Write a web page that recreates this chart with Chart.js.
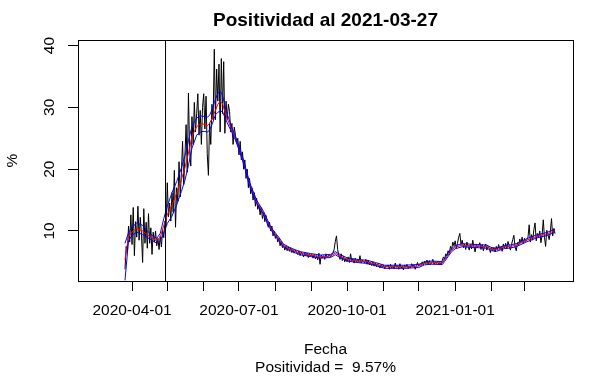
<!DOCTYPE html>
<html><head><meta charset="utf-8">
<script src="https://cdn.jsdelivr.net/npm/chart.js@4.4.0/dist/chart.umd.min.js"></script>
<style>html,body{margin:0;padding:0;background:#fff;}canvas{display:block;}</style>
</head><body>
<canvas id="c" width="614" height="379"></canvas>
<script>
// ---- text ----
const chartTitle = "Positividad al 2021-03-27";
const subtitleText = "Positividad =  9.57%";
const xAxisTitle = "Fecha";
const yAxisTitle = "%";

// ---- data (day index = days since 2020-04-01) ----
const referenceDate = "2020-04-01";
const firstDate = "2020-03-26";
const dailyPositivity = [
 3.8, 7.5, 6.5, 10.8, 8.2, 12.6, 7.8,
 13.8, 6.0, 11.5, 9.0, 14.0, 8.5, 12.2,
 9.5, 4.9, 13.6, 8.0, 11.4, 7.2, 12.8,
 8.0, 10.5, 6.2, 9.8, 8.2, 10.0, 7.6,
 8.8, 7.0, 9.2, 7.4, 10.2, 8.9, 11.6,
 10.8, 17.8, 12.3, 14.5, 11.6, 16.2, 13.0,
 19.8, 10.6, 17.0, 14.8, 21.2, 15.5, 19.5,
 24.5, 17.5, 22.0, 27.2, 19.5, 32.3, 23.0,
 20.5, 28.5, 24.0, 30.8, 26.0, 29.0, 32.2,
 25.5, 29.5, 24.0, 30.0, 32.2, 26.5, 31.8,
 22.5, 19.0, 27.5, 24.0, 30.5, 28.0, 39.4,
 28.0, 36.2, 31.0, 37.0, 26.0, 37.9, 29.0,
 37.4, 25.8, 31.0, 28.0, 30.5, 29.3, 26.0,
 27.4, 24.0, 26.8, 25.5, 24.2, 25.0, 22.3,
 24.5, 21.5, 22.8, 20.0, 21.5, 18.5, 20.0,
 17.0, 18.5, 16.0, 17.0, 15.0, 16.2, 14.0,
 15.3, 13.5, 14.2, 12.6, 13.8, 12.0, 13.0,
 11.5, 12.5, 11.2, 10.6, 11.4, 10.0, 10.8,
 9.2, 10.0, 8.8, 9.3, 8.2, 8.9, 7.6,
 8.3, 7.3, 7.8, 6.9, 7.6, 6.8, 7.4,
 6.7, 7.3, 6.5, 7.0, 6.4, 6.9, 6.6,
 6.2, 6.8, 6.0, 6.6, 6.3, 5.8, 6.5,
 6.0, 6.4, 5.7, 6.3, 5.9, 6.2, 5.6,
 6.2, 5.5, 6.0, 5.3, 6.4, 4.6, 6.1,
 5.6, 6.0, 5.4, 6.3, 5.7, 5.9, 6.2,
 5.8, 6.2, 6.5, 7.0, 8.3, 9.2, 7.0,
 6.0, 5.4, 6.3, 5.2, 5.9, 5.0, 5.6,
 5.0, 5.8, 4.9, 6.3, 5.1, 5.5, 4.8,
 5.6, 4.9, 5.4, 5.0, 6.0, 4.8, 5.3,
 5.1, 4.8, 5.4, 4.6, 5.3, 4.5, 4.9,
 4.4, 5.0, 4.3, 4.8, 4.2, 4.7, 4.4,
 4.0, 4.6, 4.1, 4.5, 3.9, 4.4, 4.2,
 4.5, 3.8, 4.6, 4.0, 4.3, 3.9, 4.8,
 4.1, 4.4, 3.8, 4.7, 4.0, 4.3, 3.7,
 4.5, 4.1, 4.6, 3.9, 4.3, 4.0, 4.7,
 4.2, 4.5, 3.8, 4.4, 4.9, 4.3, 4.6,
 4.4, 5.0, 4.5, 5.1, 4.7, 5.3, 4.6,
 5.2, 4.5, 4.9, 5.4, 4.6, 5.0, 4.7,
 5.1, 4.6, 4.9, 4.5, 5.2, 5.8, 5.4,
 6.3, 6.0, 6.8, 6.4, 7.5, 7.0, 8.2,
 7.6, 8.4, 7.2, 8.0, 9.0, 9.6, 7.8,
 8.5, 7.3, 7.9, 7.0, 8.2, 7.5, 6.9,
 7.8, 7.1, 8.5, 7.4, 6.6, 7.9, 7.3,
 7.6, 8.1, 7.0, 7.8, 6.8, 7.5, 7.9,
 6.9, 7.5, 7.2, 6.5, 7.4, 6.8, 7.3,
 6.6, 7.5, 6.9, 7.8, 7.0, 7.4, 6.7,
 7.9, 7.2, 8.0, 7.1, 8.3, 7.6, 6.9,
 7.8, 8.6, 9.3, 7.4, 6.8, 8.1, 7.6,
 8.7, 8.1, 9.0, 7.9, 8.8, 8.3, 8.6,
 9.0, 11.0, 8.2, 9.4, 8.5, 10.2, 11.3,
 8.4, 9.6, 8.9, 10.0, 8.1, 9.3, 11.8,
 9.0, 7.5, 10.1, 9.4, 8.6, 9.8, 12.0,
 9.2, 10.4, 9.57
];

const smoothDay = [-6, -3, 0, 4, 9, 15, 21, 24, 27, 30,
 34, 38, 42, 45, 48, 51, 55, 59, 62, 64,
 66, 68, 71, 73, 75, 77, 79, 81, 85, 88,
 91, 95, 100, 106, 112, 117, 120, 125, 129, 135,
 143, 152, 160, 169, 173, 177, 183, 191, 200, 207,
 215, 232, 244, 249, 255, 264, 266, 269, 272, 275,
 281, 291, 302, 306, 310, 317, 322, 327, 336, 344,
 353, 360];
const smoothMean = [5.3, 9.1, 9.9, 10.4, 10.0, 9.1, 8.4, 9.0, 10.9, 12.6,
 14.2, 16.1, 18.3, 20.2, 22.6, 25.3, 26.9, 27.4, 27.2, 27.0,
 27.4, 28.2, 29.5, 30.5, 31.0, 30.6, 29.3, 28.2, 26.3, 25.0,
 23.4, 21.1, 17.6, 14.7, 12.9, 10.8, 9.9, 8.7, 7.6, 7.0,
 6.4, 6.1, 5.85, 5.95, 6.4, 5.95, 5.4, 5.15, 5.0, 4.65,
 4.2, 4.2, 4.33, 4.77, 4.87, 4.8, 5.3, 6.1, 6.9, 7.36,
 7.7, 7.57, 7.46, 7.05, 6.95, 7.4, 7.5, 7.7, 8.5, 9.1,
 9.5, 10.05];
const smoothUpper = [8.0, 9.7, 10.6, 11.3, 10.9, 9.6, 8.8, 9.6, 12.0, 14.0,
 16.2, 18.0, 20.2, 22.2, 24.6, 26.9, 28.3, 28.6, 28.5, 28.4,
 28.7, 29.6, 31.3, 32.3, 32.6, 32.0, 30.3, 28.9, 26.7, 25.3,
 23.7, 21.4, 17.9, 15.0, 13.15, 11.05, 10.15, 8.95, 7.85, 7.25,
 6.65, 6.35, 6.1, 6.2, 6.65, 6.2, 5.65, 5.4, 5.25, 4.9,
 4.45, 4.45, 4.58, 5.02, 5.12, 5.05, 5.55, 6.35, 7.15, 7.61,
 7.95, 7.82, 7.71, 7.3, 7.2, 7.65, 7.75, 7.95, 8.75, 9.35,
 9.75, 10.3];
const smoothLower = [2.0, 8.4, 9.3, 9.8, 9.4, 8.7, 8.0, 8.4, 9.6, 11.2,
 12.4, 14.2, 16.4, 18.2, 20.6, 23.4, 25.5, 26.1, 26.1, 26.0,
 26.3, 27.2, 28.8, 29.2, 29.4, 29.3, 28.4, 27.5, 25.9, 24.7,
 23.15, 20.85, 17.35, 14.45, 12.65, 10.55, 9.65, 8.45, 7.35, 6.75,
 6.15, 5.85, 5.6, 5.7, 6.15, 5.7, 5.15, 4.9, 4.75, 4.4,
 3.95, 3.95, 4.08, 4.52, 4.62, 4.55, 5.05, 5.85, 6.65, 7.11,
 7.45, 7.32, 7.21, 6.8, 6.7, 7.15, 7.25, 7.45, 8.25, 8.85,
 9.25, 9.8];

const markerDay = 28.5;
const monthTickDay = [0, 30, 61, 91, 122, 153, 183, 214, 244, 275, 306, 334];
const monthTickLabel = ["2020-04-01", "", "", "2020-07-01", "", "", "2020-10-01", "", "", "2021-01-01", "", ""];
const yTickValues = [10, 20, 30, 40];
const xLimits = [-46, 375.3];
const yLimits = [1.9, 40.9];

// ---- build ----
const dayMs = 86400000;
const firstDay = Math.round((Date.parse(firstDate) - Date.parse(referenceDate)) / dayMs);
const dailyPoints = dailyPositivity.map((v, i) => ({x: firstDay + i, y: v}));
const pts = (days, vals) => days.map((d, i) => ({x: d, y: vals[i]}));

const FONT = "'Liberation Sans', Arial, Helvetica, sans-serif";
Chart.defaults.font.family = FONT;
Chart.defaults.color = '#000';

const boxPlugin = {
  id: 'plotBox',
  afterDatasetsDraw(chart) {
    const a = chart.chartArea, c = chart.ctx;
    c.save();
    c.strokeStyle = '#000'; c.lineWidth = 1;
    c.strokeRect(Math.round(a.left) + 0.5, Math.round(a.top) + 0.5,
                 Math.round(a.right - a.left), Math.round(a.bottom - a.top));
    c.restore();
  }
};

const lineDs = (data, color) => ({data, borderColor: color, borderWidth: 1, pointRadius: 0, fill: false, tension: 0});

new Chart(document.getElementById('c'), {
  type: 'line',
  data: {
    datasets: [
      lineDs([{x: markerDay, y: yLimits[0]}, {x: markerDay, y: yLimits[1]}], '#000000'),
      lineDs(pts(smoothDay, smoothUpper), '#0000FF'),
      lineDs(pts(smoothDay, smoothLower), '#0000FF'),
      lineDs(pts(smoothDay, smoothMean), '#FF0000'),
      lineDs(dailyPoints, '#000000')
    ]
  },
  options: {
    responsive: false, animation: false, devicePixelRatio: 1,
    layout: {padding: {left: 0, right: 41, top: 0, bottom: 0}},
    plugins: {
      legend: {display: false}, tooltip: {enabled: false},
      title: {display: true, text: chartTitle, fullSize: false, color: '#000',
              font: {size: 19, weight: 'bold', lineHeight: 1.2}, padding: {top: 9, bottom: 8.2}},
      subtitle: {display: true, position: 'bottom', text: subtitleText, fullSize: false, color: '#000',
              font: {size: 15.5, weight: 'normal', lineHeight: 1.2}, padding: {top: 0, bottom: 1.7}}
    },
    scales: {
      x: {
        type: 'linear', min: xLimits[0], max: xLimits[1],
        afterBuildTicks: s => { s.ticks = monthTickDay.map(v => ({value: v})); },
        afterFit: s => { s.height = 77.7; },
        ticks: {autoSkip: false, maxRotation: 0, minRotation: 0, padding: 10.7, font: {size: 15.5},
                callback: (v, i) => monthTickLabel[i]},
        grid: {drawOnChartArea: false, drawTicks: true, tickLength: 10, color: '#000', tickColor: '#000'},
        border: {display: false},
        title: {display: true, text: xAxisTitle, font: {size: 15.5, lineHeight: 1}, padding: {top: 0, bottom: 0.95}}
      },
      y: {
        type: 'linear', min: yLimits[0], max: yLimits[1],
        afterBuildTicks: s => { s.ticks = yTickValues.map(v => ({value: v})); },
        afterFit: s => { s.width = 78; },
        ticks: {minRotation: 90, maxRotation: 90, crossAlign: 'center', padding: 9.4, font: {size: 15.5}},
        grid: {drawOnChartArea: false, drawTicks: true, tickLength: 10, color: '#000', tickColor: '#000'},
        border: {display: false},
        title: {display: true, text: yAxisTitle, font: {size: 15.5, lineHeight: 1.2}, padding: {top: 3, bottom: 0}}
      }
    }
  },
  plugins: [boxPlugin]
});
</script>
</body></html>
